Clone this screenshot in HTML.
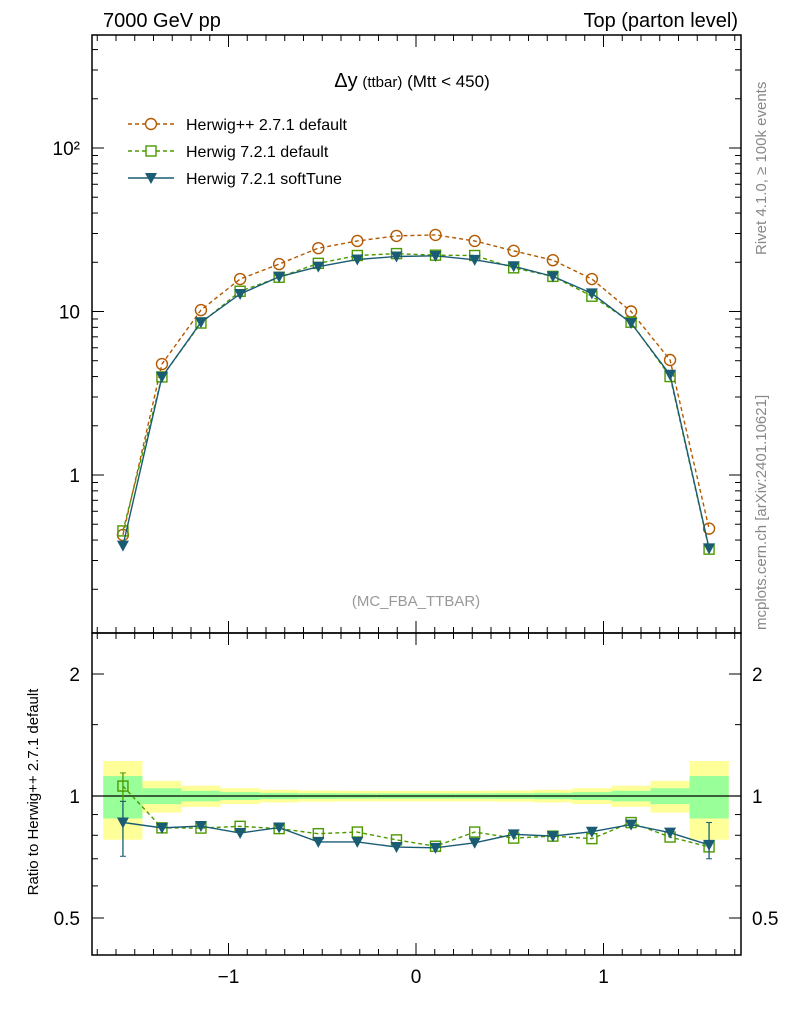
<!DOCTYPE html>
<html><head><meta charset="utf-8"><style>
body{margin:0;background:#fff}
svg{display:block;font-family:"Liberation Sans",sans-serif}
</style></head><body>
<svg id="c" width="786" height="1024" viewBox="0 0 786 1024"></svg>
<script>
const xCenters=[-1.563,-1.355,-1.147,-0.938,-0.730,-0.521,-0.313,-0.104,0.104,0.313,0.521,0.730,0.938,1.147,1.355,1.563];
const binEdges=[-1.668,-1.459,-1.251,-1.043,-0.834,-0.626,-0.417,-0.209,0,0.209,0.417,0.626,0.834,1.043,1.251,1.459,1.668];
const herwigpp=[0.43,4.77,10.2,15.8,19.5,24.4,27,29,29.4,27,23.5,20.6,15.8,10,5.05,0.47];
const h721default=[0.455,3.98,8.5,13.3,16.2,19.7,22.0,22.6,22.1,22.0,18.5,16.4,12.4,8.6,4.0,0.352];
const h721soft=[0.37,3.98,8.6,12.8,16.3,18.8,20.8,21.7,21.9,20.7,18.9,16.4,12.9,8.5,4.1,0.356];
const greenBand=[0.12,0.045,0.03,0.022,0.018,0.016,0.015,0.015,0.015,0.015,0.016,0.018,0.022,0.03,0.045,0.12];
const yellowBand=[0.22,0.09,0.06,0.045,0.036,0.032,0.03,0.03,0.03,0.03,0.032,0.036,0.045,0.06,0.09,0.22];
const xTicks=[-1,0,1];
const mainTickLabels=[[1,"1"],[10,"10"],[100,"10²"]];
const ratioTickLabels=[[0.5,"0.5"],[1,"1"],[2,"2"]];

const svg=document.getElementById('c');const NS='http://www.w3.org/2000/svg';
function el(t,a,p){const e=document.createElementNS(NS,t);for(const k in a)e.setAttribute(k,a[k]);(p||svg).appendChild(e);return e;}
const L=92,R=741,T=35,M=633,B=955;
const X=v=>416+v*187.5;
const Y=v=>475-Math.log10(v)*163.5;
const YR=v=>796-Math.log2(v)*122;

let f=el('rect',{x:L,y:T,width:R-L,height:M-T,fill:'none',stroke:'#000','stroke-width':1.5});

for(let i=0;i<xCenters.length;i++){
 const x0=X(binEdges[i]),x1=X(binEdges[i+1]);
 let y=el('rect',{x:x0,y:YR(1+yellowBand[i]),width:x1-x0,height:YR(1-yellowBand[i])-YR(1+yellowBand[i]),fill:'#ffff99'});
 
 let g=el('rect',{x:x0,y:YR(1+greenBand[i]),width:x1-x0,height:YR(1-greenBand[i])-YR(1+greenBand[i]),fill:'#99ff99'});
 
}
el('line',{x1:L,x2:R,y1:YR(1),y2:YR(1),stroke:'#000','stroke-width':1.3});
f=el('rect',{x:L,y:M,width:R-L,height:B-M,fill:'none',stroke:'#000','stroke-width':1.5});


for(let v=-1.7;v<=1.71;v+=0.1){const vv=Math.round(v*10)/10;const maj=Math.abs(vv-Math.round(vv))<1e-6;const len=maj?12:6;const x=X(vv);
 [[T,1],[M,-1],[M,1],[B,-1]].forEach(([y0,d])=>el('line',{x1:x,x2:x,y1:y0,y2:y0+d*len,stroke:'#000'}));}
xTicks.forEach(v=>{const t=el('text',{x:X(v),y:983,'font-size':19,'text-anchor':'middle'});t.textContent=v<0?'−'+Math.abs(v):String(v);
});
for(let d=-1;d<=2;d++)for(let m=1;m<10;m++){const v=m*Math.pow(10,d);const y=Y(v);if(y<T||y>M)continue;const len=m==1?12:6;
 el('line',{x1:L,x2:L+len,y1:y,y2:y,stroke:'#000'});el('line',{x1:R,x2:R-len,y1:y,y2:y,stroke:'#000'});}
mainTickLabels.forEach(([v,s])=>{const t=el('text',{x:80,y:Y(v)+7,'font-size':19,'text-anchor':'end'});t.textContent=s;
});
[0.5,0.6,0.7,0.8,0.9,1,1.5,2].forEach(v=>{const y=YR(v);const len=(v==0.5||v==1||v==2)?12:6;
 el('line',{x1:L,x2:L+len,y1:y,y2:y,stroke:'#000'});el('line',{x1:R,x2:R-len,y1:y,y2:y,stroke:'#000'});});
ratioTickLabels.forEach(([v,s])=>{let t=el('text',{x:80,y:YR(v)+7,'font-size':19,'text-anchor':'end'});t.textContent=s;

t=el('text',{x:752,y:YR(v)+7,'font-size':19});t.textContent=s;
});

function series(vals,color,dash,marker,name,ratio){
 const yf=ratio?(i=>YR(vals[i]/herwigpp[i])):(i=>Y(vals[i]));
 const pts=xCenters.map((x,i)=>X(x)+','+yf(i)).join(' ');
 const pl=el('polyline',{points:pts,fill:'none',stroke:color,'stroke-width':1.4,'stroke-dasharray':dash||'none'});
 
 xCenters.forEach((x,i)=>{const cx=X(x),cy=yf(i);let m;
  if(marker=='circle')m=el('circle',{cx,cy,r:5.5,fill:'none',stroke:color,'stroke-width':1.4});
  else if(marker=='square')m=el('rect',{x:cx-5,y:cy-5,width:10,height:10,fill:'none',stroke:color,'stroke-width':1.4});
  else m=el('polygon',{points:`${cx-6},${cy-5} ${cx+6},${cy-5} ${cx},${cy+6}`,fill:color});
  });
}
series(herwigpp,'#b35900','4,3','circle','herwigpp-271');
series(h721default,'#4c9900','4,3','square','herwig-721-default');
series(h721soft,'#1a5c73',null,'tri','herwig-721-softtune');
series(h721default,'#4c9900','4,3','square','ratio-herwig-721-default',true);
series(h721soft,'#1a5c73',null,'tri','ratio-herwig-721-softtune',true);
[[0,'#4c9900',1.14,0.97],[0,'#1a5c73',0.97,0.71],[15,'#1a5c73',0.86,0.7]].forEach(([i,c,a,b])=>{const x=X(xCenters[i]);
 el('line',{x1:x,x2:x,y1:YR(a),y2:YR(b),stroke:c,'stroke-width':1.3});
 el('line',{x1:x-3,x2:x+3,y1:YR(a),y2:YR(a),stroke:c});el('line',{x1:x-3,x2:x+3,y1:YR(b),y2:YR(b),stroke:c});});

function txt(s,a,name){const t=el('text',a);t.textContent=s;return t;}
txt('7000 GeV pp',{x:103,y:27,'font-size':20},'top-left-label');
txt('Top (parton level)',{x:738,y:27,'font-size':20,'text-anchor':'end'},'top-right-label');
const tt=txt('',{x:412,y:87,'font-size':17,'text-anchor':'middle'},'plot-title');
tt.innerHTML='<tspan font-size="20">Δy</tspan> <tspan font-size="15">(ttbar)</tspan> (Mtt &lt; 450)';
txt('(MC_FBA_TTBAR)',{x:416,y:606,'font-size':15,fill:'#999','text-anchor':'middle'},'analysis-label');
const leg=[['Herwig++ 2.7.1 default','#b35900','4,3','circle'],['Herwig 7.2.1 default','#4c9900','4,3','square'],['Herwig 7.2.1 softTune','#1a5c73',null,'tri']];
leg.forEach((l,i)=>{const y=124+i*27;const g=el('g',{});
 el('line',{x1:128,x2:174,y1:y,y2:y,stroke:l[1],'stroke-width':1.4,'stroke-dasharray':l[2]||'none'},g);
 const cx=151;if(l[3]=='circle')el('circle',{cx,cy:y,r:5.5,fill:'#fff',stroke:l[1],'stroke-width':1.4},g);
 else if(l[3]=='square')el('rect',{x:cx-5,y:y-5,width:10,height:10,fill:'#fff',stroke:l[1],'stroke-width':1.4},g);
 else el('polygon',{points:`${cx-6},${y-5} ${cx+6},${y-5} ${cx},${y+6}`,fill:l[1]},g);
 const t=el('text',{x:186,y:y+6,'font-size':16},g);t.textContent=l[0];});
txt('Rivet 4.1.0, ≥ 100k events',{x:0,y:0,'font-size':15,fill:'#888',transform:'translate(766,255) rotate(-90)'},'rivet-label');
txt('mcplots.cern.ch [arXiv:2401.10621]',{x:0,y:0,'font-size':15,fill:'#888',transform:'translate(766,630) rotate(-90)'},'mcplots-label');
txt('Ratio to Herwig++ 2.7.1 default',{x:0,y:0,'font-size':15,'text-anchor':'middle',transform:'translate(38,792) rotate(-90)'},'ratio-y-axis-title');
</script>
</body></html>
